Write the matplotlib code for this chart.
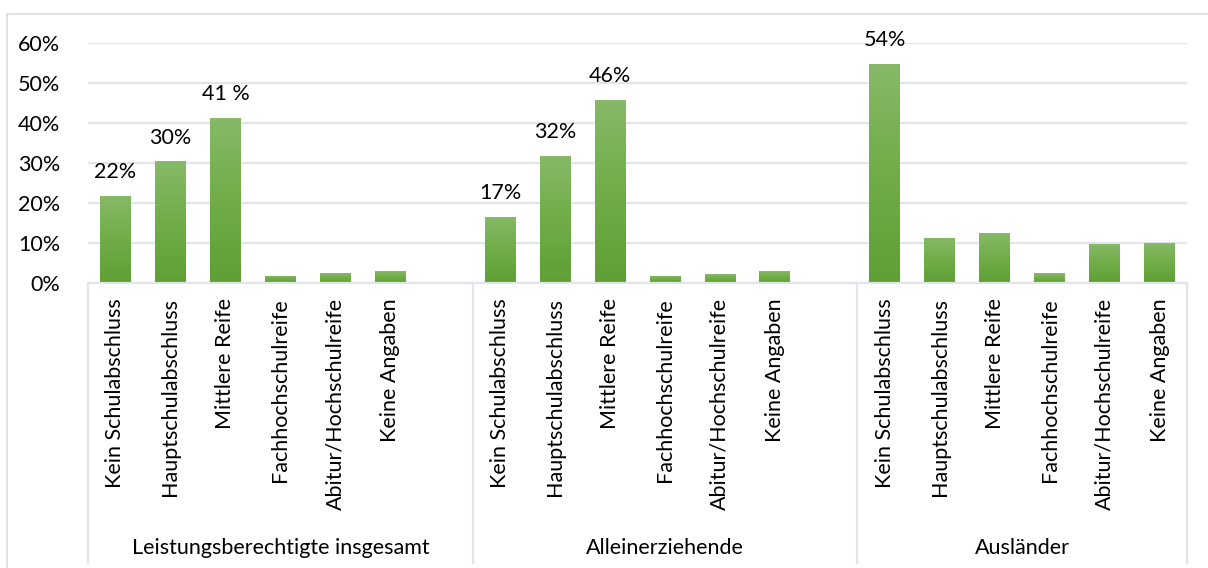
import numpy as np
import matplotlib
matplotlib.use("Agg")
import matplotlib.pyplot as plt
from matplotlib.colors import LinearSegmentedColormap
from matplotlib.patches import Rectangle
import matplotlib.transforms as mtransforms

plt.rcParams["font.family"] = ["Lato", "DejaVu Sans"]

groups = ["Leistungsberechtigte insgesamt", "Alleinerziehende", "Ausländer"]
categories = ["Kein Schulabschluss", "Hauptschulabschluss", "Mittlere Reife",
              "Fachhochschulreife", "Abitur/Hochschulreife", "Keine Angaben"]
insgesamt = [21.8, 30.4, 41.2, 1.8, 2.5, 3.0]
alleinerziehende = [16.6, 31.8, 45.8, 1.8, 2.2, 2.9]
auslaender = [54.7, 11.3, 12.5, 2.5, 9.8, 10.0]
values = [insgesamt, alleinerziehende, auslaender]
# labels shown above the bars (only some bars carry one)
bar_labels = [["22%", "30%", "41 %", "", "", ""],
              ["17%", "32%", "46%", "", "", ""],
              ["54%", "", "", "", "", ""]]
yticks = [0, 10, 20, 30, 40, 50, 60]

FS = 15.5
grid_col = "#e1e4ea"
green_cmap = LinearSegmentedColormap.from_list("g", ["#5f9f35", "#70ad47", "#87b968"])

fig = plt.figure(figsize=(12.08, 5.68), dpi=100)
ax = fig.add_axes([88 / 1208, 1 - 283 / 568, (1187 - 88) / 1208, 240 / 568])

# light frame round the chart area
fig.patches.append(Rectangle((7 / 1208, -0.05), 1.1, 1 - 14 / 568 + 0.05,
                             transform=fig.transFigure, fill=False,
                             edgecolor="#d9dde3", linewidth=1.2))

n_cat = len(categories)
slot = n_cat + 1
w = 0.56
grad = np.linspace(0, 1, 256).reshape(-1, 1)
for g, vals in enumerate(values):
    xs = np.arange(n_cat) + g * slot
    bars = ax.bar(xs, vals, width=w, color="#70ad47", zorder=2)
    for b in bars:
        x0 = b.get_x()
        h = b.get_height()
        im = ax.imshow(grad, cmap=green_cmap, origin="lower", aspect="auto",
                       extent=[x0, x0 + w, 0, h], zorder=3)
        im.set_clip_path(b)
    for x, v, lab in zip(xs, vals, bar_labels[g]):
        if lab:
            ax.annotate(lab, (x, v), xytext=(0, 10), textcoords="offset points",
                        ha="center", va="bottom", fontsize=FS, color="#000000",
                        annotation_clip=False)

ax.set_xlim(-0.5, 3 * slot - 1.5)
ax.set_ylim(0, 60)
ax.set_yticks(yticks)
ax.set_yticklabels([f"{t}%" for t in yticks], fontsize=FS)
ax.yaxis.grid(True, color=grid_col, linewidth=1.6, zorder=0)
ax.set_axisbelow(True)
ax.tick_params(axis="y", length=0, pad=20)

xt = np.concatenate([np.arange(n_cat) + g * slot for g in range(3)])
ax.set_xticks(xt)
ax.set_xticklabels(categories * 3, rotation=90, fontsize=FS)
ax.tick_params(axis="x", length=0, pad=11)

for s in ["top", "right", "left"]:
    ax.spines[s].set_visible(False)
ax.spines["bottom"].set_color(grid_col)
ax.spines["bottom"].set_linewidth(1.6)
ax.spines["bottom"].set_zorder(4)

# group separators and group names under the category labels
trans = mtransforms.blended_transform_factory(ax.transData, ax.transAxes)
bounds = [-0.5, slot - 0.5, 2 * slot - 0.5, 3 * slot - 1.5]
for bx in bounds:
    ax.plot([bx, bx], [0, -1.165], transform=trans, color=grid_col,
            linewidth=1.6, clip_on=False)
for g, name in enumerate(groups):
    cx = (bounds[g] + bounds[g + 1]) / 2
    ax.text(cx, -1.105, name, transform=trans, ha="center", va="center",
            fontsize=FS)

fig.savefig("out.png", dpi=100)
